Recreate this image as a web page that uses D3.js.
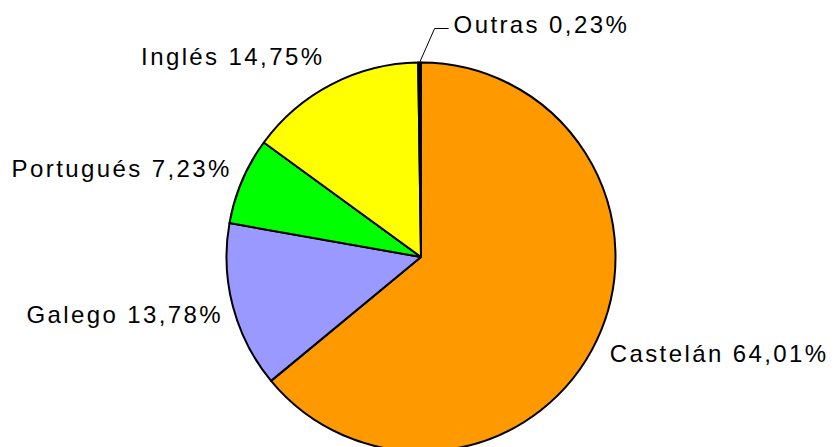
<!DOCTYPE html>
<html>
<head>
<meta charset="utf-8">
<script src="https://cdn.jsdelivr.net/npm/d3@7"></script>
<style>
  body { margin: 0; background: #fff; }
  text { font-family: "Liberation Sans", Arial, sans-serif; font-size: 24px; letter-spacing: 2.4px; fill: #000; }
</style>
</head>
<body>
<div id="chart"></div>
<script>
// languages and their share (%)
var languages = ["Castelán", "Galego", "Portugués", "Inglés", "Outras"];
var shares = [64.01, 13.78, 7.23, 14.75, 0.23];
var colors = ["#FF9900", "#9999FF", "#00FF00", "#FFFF00", "#000000"];

var svgWidth = 835;
var svgHeight = 447;

var cx = 421, cy = 257;
var radius = 194.5;

var svg = d3.select("#chart")
  .append("svg")
  .attr("width", svgWidth)
  .attr("height", svgHeight);

var chartGroup = svg.append("g")
  .attr("transform", `translate(${cx}, ${cy})`);

var data = languages.map(function (d, i) {
  return { name: d, value: shares[i], color: colors[i] };
});

var pie = d3.pie()
  .sort(null)
  .value(d => d.value);

var arc = d3.arc()
  .innerRadius(0)
  .outerRadius(radius);

var arcs = pie(data);

// slices
chartGroup.selectAll("path")
  .data(arcs)
  .enter()
  .append("path")
  .attr("d", arc)
  .attr("fill", d => d.data.color)
  .attr("stroke", "#000")
  .attr("stroke-width", 2)
  .attr("stroke-linejoin", "round");

// labels
var labelR = 211;
var fmt = function (v) { return v.toFixed(2).replace(".", ","); };

arcs.forEach(function (d) {
  var mid = (d.startAngle + d.endAngle) / 2;
  var dx = Math.sin(mid), dy = -Math.cos(mid);
  var label = d.data.name + " " + fmt(d.data.value) + "%";

  if (d.data.value < 1) {
    // tiny slice: leader line to the label
    var p0 = [radius * dx, radius * dy];
    var p1 = [p0[0] + 15, -radius - 34];
    var p2 = [p1[0] + 14, p1[1]];
    chartGroup.append("polyline")
      .attr("points", [p0, p1, p2].map(p => p.join(",")).join(" "))
      .attr("fill", "none")
      .attr("stroke", "#000")
      .attr("stroke-width", 1);
    chartGroup.append("text")
      .attr("x", p2[0] + 5)
      .attr("y", p2[1] - 4)
      .attr("dy", "0.35em")
      .attr("text-anchor", "start")
      .text(label);
    return;
  }

  // label box corner sits near the label radius
  var shift = 6 - 9 * Math.abs(dy);
  var x = labelR * dx - Math.sign(dx) * shift;
  var y = labelR * dy + dy * 15;
  chartGroup.append("text")
    .attr("x", dx < 0 ? x + 2.4 : x)
    .attr("y", y)
    .attr("dy", "0.35em")
    .attr("text-anchor", dx < 0 ? "end" : "start")
    .text(label);
});
</script>
</body>
</html>
